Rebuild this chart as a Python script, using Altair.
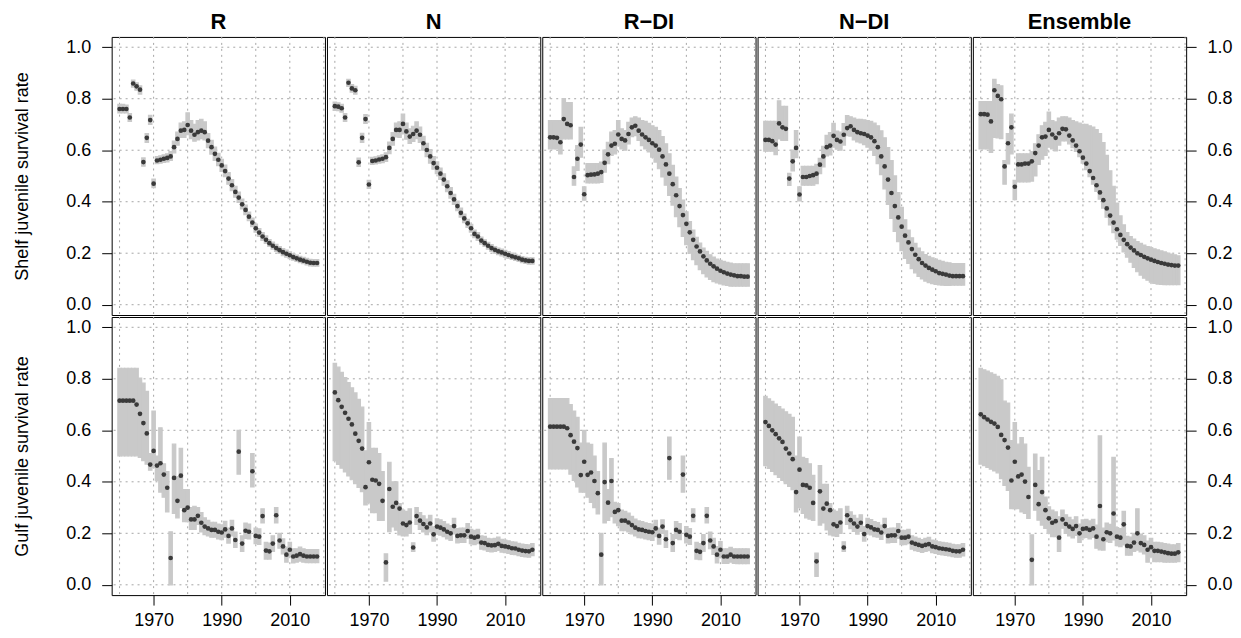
import altair as alt
import pandas as pd

YEARS = list(range(1960, 2019))

MODELS = ["R", "N", "R\u2212DI", "N\u2212DI", "Ensemble"]
ROW_TITLES = ["Shelf juvenile survival rate", "Gulf juvenile survival rate"]
X_TICKS = [1970, 1990, 2010]
GRID_X = [1960, 1970, 1980, 1990, 2000, 2010, 2020]
Y_TICKS = [0.0, 0.2, 0.4, 0.6, 0.8, 1.0]

# ---------------- Shelf ----------------
R_SHELF_MID = [0.760, 0.760, 0.760, 0.727, 0.859, 0.848, 0.835, 0.554, 0.648, 0.717,
               0.470, 0.560, 0.563, 0.567, 0.570, 0.576, 0.612, 0.644, 0.676, 0.679,
               0.698, 0.676, 0.660, 0.670, 0.676, 0.670, 0.637, 0.612, 0.586, 0.563,
               0.541, 0.519, 0.490, 0.464, 0.438, 0.416, 0.390, 0.368, 0.342, 0.319,
               0.297, 0.280, 0.265, 0.252, 0.239, 0.229, 0.220, 0.212, 0.204, 0.198,
               0.192, 0.185, 0.180, 0.175, 0.171, 0.167, 0.163, 0.162, 0.162]
R_SHELF_LO = [0.745, 0.745, 0.745, 0.712, 0.845, 0.833, 0.818, 0.538, 0.630, 0.700,
              0.455, 0.548, 0.550, 0.553, 0.555, 0.560, 0.590, 0.620, 0.650, 0.650,
              0.660, 0.645, 0.635, 0.640, 0.645, 0.640, 0.610, 0.585, 0.560, 0.540,
              0.518, 0.497, 0.468, 0.443, 0.418, 0.397, 0.372, 0.350, 0.326, 0.303,
              0.282, 0.265, 0.250, 0.238, 0.226, 0.216, 0.207, 0.199, 0.191, 0.185,
              0.179, 0.173, 0.168, 0.163, 0.159, 0.155, 0.151, 0.150, 0.150]
R_SHELF_HI = [0.778, 0.778, 0.775, 0.742, 0.872, 0.862, 0.850, 0.570, 0.665, 0.735,
              0.488, 0.575, 0.578, 0.582, 0.586, 0.595, 0.635, 0.670, 0.705, 0.710,
              0.745, 0.715, 0.700, 0.715, 0.720, 0.710, 0.665, 0.638, 0.612, 0.588,
              0.565, 0.542, 0.513, 0.486, 0.460, 0.437, 0.410, 0.387, 0.360, 0.336,
              0.313, 0.296, 0.280, 0.267, 0.253, 0.243, 0.234, 0.226, 0.218, 0.212,
              0.205, 0.198, 0.193, 0.188, 0.184, 0.180, 0.176, 0.175, 0.175]

N_SHELF_MID = [0.771, 0.769, 0.763, 0.727, 0.862, 0.840, 0.833, 0.553, 0.648, 0.721,
               0.467, 0.558, 0.560, 0.564, 0.567, 0.573, 0.609, 0.644, 0.679, 0.679,
               0.702, 0.673, 0.653, 0.663, 0.676, 0.660, 0.627, 0.601, 0.576, 0.550,
               0.532, 0.509, 0.486, 0.460, 0.434, 0.409, 0.383, 0.357, 0.335, 0.316,
               0.297, 0.275, 0.265, 0.249, 0.239, 0.229, 0.220, 0.213, 0.207, 0.203,
               0.198, 0.193, 0.188, 0.184, 0.180, 0.175, 0.172, 0.170, 0.170]
N_SHELF_LO = [0.755, 0.754, 0.748, 0.712, 0.848, 0.826, 0.818, 0.537, 0.630, 0.704,
              0.452, 0.545, 0.547, 0.550, 0.552, 0.557, 0.587, 0.620, 0.652, 0.650,
              0.665, 0.643, 0.626, 0.634, 0.645, 0.630, 0.600, 0.575, 0.550, 0.526,
              0.509, 0.487, 0.464, 0.439, 0.414, 0.390, 0.365, 0.340, 0.319, 0.300,
              0.282, 0.260, 0.250, 0.235, 0.226, 0.216, 0.207, 0.200, 0.194, 0.190,
              0.185, 0.180, 0.176, 0.172, 0.168, 0.163, 0.160, 0.158, 0.158]
N_SHELF_HI = [0.787, 0.784, 0.778, 0.742, 0.875, 0.855, 0.848, 0.569, 0.666, 0.738,
              0.483, 0.572, 0.574, 0.578, 0.582, 0.590, 0.632, 0.668, 0.705, 0.710,
              0.740, 0.705, 0.683, 0.693, 0.710, 0.690, 0.654, 0.627, 0.602, 0.575,
              0.555, 0.531, 0.508, 0.481, 0.455, 0.429, 0.402, 0.375, 0.352, 0.332,
              0.312, 0.290, 0.280, 0.263, 0.252, 0.242, 0.233, 0.226, 0.220, 0.216,
              0.211, 0.206, 0.200, 0.196, 0.192, 0.187, 0.184, 0.182, 0.182]

RDI_SHELF_MID = [0.650, 0.650, 0.648, 0.631, 0.721, 0.702, 0.697, 0.496, 0.567, 0.622,
                 0.429, 0.503, 0.505, 0.506, 0.509, 0.515, 0.551, 0.584, 0.618, 0.625,
                 0.661, 0.644, 0.638, 0.663, 0.689, 0.695, 0.676, 0.661, 0.650, 0.640,
                 0.627, 0.618, 0.602, 0.576, 0.545, 0.509, 0.468, 0.425, 0.383, 0.348,
                 0.314, 0.281, 0.252, 0.226, 0.207, 0.188, 0.172, 0.159, 0.149, 0.140,
                 0.132, 0.126, 0.121, 0.117, 0.114, 0.111, 0.111, 0.109, 0.109]
RDI_SHELF_LO = [0.605, 0.605, 0.605, 0.586, 0.644, 0.644, 0.644, 0.464, 0.522, 0.573,
                0.406, 0.473, 0.473, 0.473, 0.473, 0.475, 0.515, 0.548, 0.580, 0.586,
                0.618, 0.605, 0.600, 0.625, 0.653, 0.657, 0.638, 0.618, 0.605, 0.593,
                0.573, 0.554, 0.528, 0.496, 0.464, 0.425, 0.387, 0.342, 0.303, 0.265,
                0.233, 0.200, 0.175, 0.156, 0.136, 0.121, 0.108, 0.098, 0.090, 0.085,
                0.081, 0.077, 0.075, 0.072, 0.072, 0.072, 0.072, 0.072, 0.072]
RDI_SHELF_HI = [0.715, 0.715, 0.715, 0.715, 0.800, 0.785, 0.785, 0.535, 0.618, 0.689,
                0.458, 0.548, 0.548, 0.548, 0.548, 0.554, 0.600, 0.631, 0.670, 0.676,
                0.715, 0.683, 0.676, 0.708, 0.725, 0.730, 0.725, 0.715, 0.712, 0.704,
                0.695, 0.689, 0.676, 0.653, 0.625, 0.586, 0.541, 0.496, 0.451, 0.406,
                0.361, 0.323, 0.290, 0.262, 0.239, 0.220, 0.207, 0.194, 0.185, 0.177,
                0.172, 0.168, 0.165, 0.162, 0.159, 0.159, 0.159, 0.159, 0.159]

NDI_SHELF_MID = [0.640, 0.640, 0.635, 0.622, 0.704, 0.689, 0.683, 0.490, 0.557, 0.609,
                 0.428, 0.496, 0.496, 0.500, 0.503, 0.509, 0.544, 0.576, 0.612, 0.618,
                 0.656, 0.640, 0.634, 0.660, 0.686, 0.693, 0.679, 0.670, 0.666, 0.663,
                 0.657, 0.650, 0.635, 0.612, 0.576, 0.537, 0.486, 0.434, 0.383, 0.339,
                 0.303, 0.268, 0.242, 0.216, 0.194, 0.177, 0.162, 0.152, 0.143, 0.136,
                 0.130, 0.123, 0.120, 0.117, 0.113, 0.111, 0.111, 0.111, 0.111]
NDI_SHELF_LO = [0.596, 0.596, 0.596, 0.583, 0.644, 0.638, 0.638, 0.463, 0.520, 0.571,
                0.403, 0.464, 0.464, 0.464, 0.464, 0.470, 0.509, 0.535, 0.578, 0.582,
                0.612, 0.604, 0.600, 0.620, 0.657, 0.655, 0.640, 0.632, 0.628, 0.622,
                0.612, 0.600, 0.580, 0.548, 0.505, 0.450, 0.390, 0.335, 0.285, 0.245,
                0.210, 0.180, 0.160, 0.140, 0.124, 0.110, 0.100, 0.092, 0.086, 0.082,
                0.079, 0.077, 0.076, 0.075, 0.075, 0.076, 0.076, 0.076, 0.076]
NDI_SHELF_HI = [0.712, 0.712, 0.712, 0.712, 0.792, 0.770, 0.770, 0.510, 0.600, 0.676,
                0.458, 0.537, 0.537, 0.537, 0.537, 0.545, 0.568, 0.615, 0.658, 0.668,
                0.704, 0.674, 0.670, 0.703, 0.734, 0.730, 0.725, 0.720, 0.720, 0.718,
                0.715, 0.712, 0.705, 0.695, 0.675, 0.648, 0.610, 0.560, 0.500, 0.435,
                0.378, 0.330, 0.290, 0.260, 0.238, 0.220, 0.205, 0.195, 0.188, 0.182,
                0.177, 0.172, 0.168, 0.165, 0.163, 0.160, 0.160, 0.160, 0.160]

ENS_SHELF_MID = [0.740, 0.740, 0.738, 0.712, 0.833, 0.811, 0.798, 0.537, 0.627, 0.689,
                 0.458, 0.545, 0.545, 0.548, 0.548, 0.557, 0.589, 0.618, 0.650, 0.653,
                 0.679, 0.661, 0.648, 0.666, 0.683, 0.681, 0.657, 0.638, 0.618, 0.596,
                 0.571, 0.548, 0.519, 0.492, 0.464, 0.436, 0.406, 0.374, 0.346, 0.319,
                 0.293, 0.271, 0.252, 0.235, 0.222, 0.211, 0.200, 0.193, 0.186, 0.180,
                 0.175, 0.170, 0.166, 0.162, 0.159, 0.156, 0.154, 0.152, 0.152]
ENS_SHELF_LO = [0.605, 0.605, 0.605, 0.592, 0.650, 0.648, 0.645, 0.468, 0.547, 0.586,
                0.408, 0.477, 0.477, 0.477, 0.477, 0.480, 0.500, 0.545, 0.565, 0.580,
                0.612, 0.605, 0.597, 0.620, 0.636, 0.636, 0.625, 0.610, 0.595, 0.575,
                0.550, 0.525, 0.497, 0.468, 0.440, 0.410, 0.375, 0.340, 0.310, 0.280,
                0.255, 0.230, 0.205, 0.185, 0.165, 0.145, 0.128, 0.115, 0.103, 0.095,
                0.088, 0.083, 0.080, 0.079, 0.078, 0.078, 0.078, 0.078, 0.078]
ENS_SHELF_HI = [0.789, 0.789, 0.789, 0.789, 0.875, 0.855, 0.850, 0.560, 0.665, 0.740,
                0.483, 0.586, 0.586, 0.586, 0.586, 0.595, 0.625, 0.660, 0.695, 0.708,
                0.748, 0.715, 0.710, 0.725, 0.730, 0.730, 0.725, 0.715, 0.710, 0.705,
                0.700, 0.700, 0.695, 0.690, 0.680, 0.665, 0.630, 0.580, 0.520, 0.460,
                0.395, 0.345, 0.310, 0.280, 0.265, 0.255, 0.245, 0.238, 0.232, 0.226,
                0.222, 0.217, 0.213, 0.209, 0.205, 0.200, 0.197, 0.194, 0.190]

# ---------------- Gulf ----------------
R_GULF_MID = [0.715, 0.715, 0.715, 0.715, 0.715, 0.700, 0.664, 0.628, 0.588, 0.467,
              0.520, 0.463, 0.472, 0.428, 0.377, 0.104, 0.415, 0.326, 0.424, 0.290,
              0.300, 0.254, 0.254, 0.268, 0.241, 0.226, 0.219, 0.213, 0.213, 0.206,
              0.203, 0.215, 0.190, 0.219, 0.174, 0.517, 0.160, 0.210, 0.206, 0.441,
              0.190, 0.187, 0.267, 0.133, 0.130, 0.160, 0.270, 0.172, 0.149, 0.117,
              0.136, 0.110, 0.113, 0.119, 0.113, 0.110, 0.110, 0.110, 0.110]
R_GULF_LO = [0.501, 0.501, 0.501, 0.501, 0.501, 0.501, 0.495, 0.482, 0.469, 0.445,
             0.455, 0.405, 0.360, 0.340, 0.283, 0.000, 0.277, 0.260, 0.300, 0.245,
             0.245, 0.215, 0.215, 0.235, 0.205, 0.195, 0.190, 0.185, 0.185, 0.178,
             0.175, 0.185, 0.162, 0.190, 0.145, 0.430, 0.130, 0.180, 0.178, 0.380,
             0.160, 0.157, 0.240, 0.100, 0.100, 0.130, 0.240, 0.142, 0.120, 0.088,
             0.108, 0.085, 0.088, 0.092, 0.088, 0.086, 0.086, 0.086, 0.086]
R_GULF_HI = [0.841, 0.841, 0.841, 0.841, 0.841, 0.841, 0.803, 0.783, 0.751, 0.510,
             0.675, 0.500, 0.610, 0.470, 0.440, 0.206, 0.546, 0.420, 0.530, 0.370,
             0.370, 0.300, 0.305, 0.300, 0.280, 0.260, 0.250, 0.243, 0.243, 0.236,
             0.233, 0.246, 0.220, 0.250, 0.205, 0.600, 0.190, 0.240, 0.236, 0.510,
             0.220, 0.217, 0.295, 0.165, 0.162, 0.190, 0.300, 0.200, 0.178, 0.146,
             0.165, 0.140, 0.140, 0.146, 0.140, 0.137, 0.137, 0.137, 0.137]

N_GULF_MID = [0.747, 0.717, 0.691, 0.668, 0.645, 0.623, 0.587, 0.559, 0.529, 0.379,
              0.476, 0.408, 0.405, 0.392, 0.326, 0.087, 0.372, 0.303, 0.318, 0.296,
              0.238, 0.232, 0.242, 0.145, 0.267, 0.249, 0.236, 0.223, 0.238, 0.196,
              0.226, 0.222, 0.215, 0.206, 0.200, 0.228, 0.190, 0.192, 0.192, 0.209,
              0.187, 0.183, 0.187, 0.164, 0.162, 0.155, 0.153, 0.154, 0.159, 0.151,
              0.149, 0.146, 0.142, 0.141, 0.136, 0.133, 0.131, 0.130, 0.136]
N_GULF_LO = [0.482, 0.468, 0.453, 0.438, 0.423, 0.408, 0.393, 0.378, 0.362, 0.310,
             0.320, 0.280, 0.280, 0.250, 0.250, 0.014, 0.206, 0.225, 0.212, 0.194,
             0.190, 0.190, 0.200, 0.130, 0.235, 0.215, 0.205, 0.195, 0.205, 0.170,
             0.197, 0.193, 0.187, 0.178, 0.172, 0.198, 0.163, 0.165, 0.165, 0.180,
             0.160, 0.156, 0.160, 0.138, 0.136, 0.130, 0.128, 0.130, 0.134, 0.127,
             0.125, 0.122, 0.118, 0.117, 0.113, 0.110, 0.108, 0.107, 0.113]
N_GULF_HI = [0.860, 0.845, 0.825, 0.805, 0.785, 0.765, 0.745, 0.720, 0.690, 0.520,
             0.630, 0.530, 0.530, 0.510, 0.440, 0.120, 0.476, 0.400, 0.400, 0.315,
             0.290, 0.285, 0.295, 0.163, 0.300, 0.280, 0.268, 0.255, 0.270, 0.225,
             0.256, 0.252, 0.245, 0.236, 0.230, 0.258, 0.218, 0.220, 0.220, 0.238,
             0.215, 0.211, 0.215, 0.190, 0.188, 0.180, 0.178, 0.180, 0.185, 0.177,
             0.174, 0.171, 0.167, 0.166, 0.161, 0.158, 0.156, 0.155, 0.160]

RDI_GULF_MID = [0.614, 0.614, 0.614, 0.614, 0.614, 0.608, 0.581, 0.556, 0.531, 0.426,
                0.478, 0.427, 0.436, 0.403, 0.356, 0.117, 0.399, 0.319, 0.403, 0.283,
                0.290, 0.249, 0.249, 0.242, 0.232, 0.222, 0.215, 0.213, 0.209, 0.206,
                0.204, 0.219, 0.190, 0.226, 0.177, 0.492, 0.162, 0.213, 0.206, 0.428,
                0.194, 0.187, 0.268, 0.132, 0.128, 0.162, 0.268, 0.172, 0.149, 0.117,
                0.136, 0.110, 0.110, 0.117, 0.110, 0.110, 0.110, 0.110, 0.110]
RDI_GULF_LO = [0.450, 0.450, 0.450, 0.450, 0.450, 0.450, 0.430, 0.405, 0.380, 0.360,
               0.360, 0.340, 0.320, 0.300, 0.275, 0.000, 0.240, 0.250, 0.265, 0.240,
               0.230, 0.210, 0.210, 0.205, 0.198, 0.190, 0.183, 0.182, 0.178, 0.175,
               0.172, 0.187, 0.158, 0.200, 0.145, 0.410, 0.130, 0.180, 0.175, 0.360,
               0.163, 0.157, 0.245, 0.100, 0.098, 0.130, 0.240, 0.140, 0.118, 0.085,
               0.105, 0.083, 0.083, 0.088, 0.083, 0.082, 0.082, 0.082, 0.082]
RDI_GULF_HI = [0.723, 0.723, 0.723, 0.723, 0.723, 0.723, 0.700, 0.675, 0.650, 0.550,
               0.600, 0.550, 0.545, 0.500, 0.440, 0.200, 0.550, 0.370, 0.490, 0.320,
               0.315, 0.290, 0.285, 0.278, 0.266, 0.255, 0.248, 0.245, 0.241, 0.238,
               0.236, 0.250, 0.220, 0.252, 0.210, 0.574, 0.195, 0.245, 0.238, 0.500,
               0.226, 0.218, 0.295, 0.165, 0.160, 0.195, 0.300, 0.205, 0.180, 0.148,
               0.168, 0.140, 0.140, 0.145, 0.140, 0.140, 0.140, 0.140, 0.140]

NDI_GULF_MID = [0.632, 0.617, 0.600, 0.585, 0.569, 0.555, 0.529, 0.510, 0.488, 0.360,
                0.447, 0.388, 0.386, 0.377, 0.318, 0.091, 0.363, 0.296, 0.315, 0.290,
                0.235, 0.228, 0.242, 0.145, 0.270, 0.251, 0.238, 0.226, 0.241, 0.197,
                0.228, 0.223, 0.215, 0.213, 0.203, 0.228, 0.190, 0.192, 0.192, 0.209,
                0.183, 0.183, 0.187, 0.164, 0.159, 0.155, 0.151, 0.155, 0.158, 0.149,
                0.146, 0.142, 0.140, 0.138, 0.136, 0.132, 0.130, 0.130, 0.136]
NDI_GULF_LO = [0.463, 0.452, 0.440, 0.428, 0.417, 0.405, 0.393, 0.382, 0.370, 0.283,
               0.300, 0.277, 0.260, 0.255, 0.250, 0.033, 0.232, 0.240, 0.213, 0.194,
               0.190, 0.188, 0.200, 0.130, 0.235, 0.218, 0.207, 0.197, 0.207, 0.170,
               0.198, 0.194, 0.187, 0.185, 0.176, 0.198, 0.163, 0.165, 0.165, 0.180,
               0.156, 0.156, 0.160, 0.138, 0.133, 0.130, 0.126, 0.130, 0.133, 0.125,
               0.122, 0.118, 0.116, 0.114, 0.112, 0.109, 0.107, 0.107, 0.112]
NDI_GULF_HI = [0.732, 0.722, 0.712, 0.702, 0.692, 0.682, 0.672, 0.662, 0.650, 0.500,
               0.574, 0.495, 0.490, 0.470, 0.425, 0.123, 0.463, 0.390, 0.390, 0.315,
               0.290, 0.285, 0.295, 0.167, 0.305, 0.283, 0.270, 0.258, 0.272, 0.226,
               0.258, 0.253, 0.245, 0.242, 0.232, 0.258, 0.218, 0.220, 0.220, 0.238,
               0.211, 0.211, 0.215, 0.190, 0.185, 0.180, 0.176, 0.180, 0.184, 0.174,
               0.171, 0.167, 0.165, 0.163, 0.161, 0.157, 0.155, 0.155, 0.160]

ENS_GULF_MID = [0.662, 0.651, 0.642, 0.633, 0.626, 0.613, 0.582, 0.562, 0.533, 0.405,
                0.478, 0.421, 0.428, 0.401, 0.341, 0.097, 0.388, 0.313, 0.360, 0.290,
                0.258, 0.241, 0.247, 0.183, 0.254, 0.236, 0.226, 0.217, 0.228, 0.200,
                0.217, 0.219, 0.213, 0.219, 0.187, 0.306, 0.177, 0.204, 0.200, 0.277,
                0.187, 0.183, 0.235, 0.151, 0.149, 0.164, 0.200, 0.162, 0.155, 0.136,
                0.146, 0.132, 0.132, 0.129, 0.126, 0.123, 0.121, 0.121, 0.126]
ENS_GULF_LO = [0.469, 0.463, 0.456, 0.449, 0.442, 0.435, 0.412, 0.386, 0.367, 0.296,
               0.296, 0.296, 0.283, 0.277, 0.258, 0.000, 0.290, 0.251, 0.232, 0.219,
               0.200, 0.187, 0.187, 0.130, 0.220, 0.200, 0.190, 0.182, 0.192, 0.165,
               0.182, 0.184, 0.178, 0.184, 0.142, 0.136, 0.135, 0.168, 0.165, 0.174,
               0.152, 0.148, 0.155, 0.115, 0.115, 0.130, 0.135, 0.128, 0.120, 0.088,
               0.110, 0.090, 0.090, 0.090, 0.088, 0.088, 0.088, 0.088, 0.090]
ENS_GULF_HI = [0.841, 0.835, 0.830, 0.823, 0.817, 0.810, 0.796, 0.713, 0.706, 0.560,
               0.630, 0.546, 0.572, 0.546, 0.456, 0.194, 0.508, 0.444, 0.495, 0.341,
               0.303, 0.290, 0.283, 0.264, 0.290, 0.272, 0.262, 0.252, 0.264, 0.236,
               0.252, 0.254, 0.248, 0.254, 0.232, 0.578, 0.220, 0.240, 0.235, 0.495,
               0.222, 0.218, 0.285, 0.188, 0.185, 0.200, 0.295, 0.197, 0.190, 0.170,
               0.180, 0.165, 0.165, 0.163, 0.160, 0.158, 0.155, 0.155, 0.160]

SERIES = {
    (0, 0): (R_SHELF_MID, R_SHELF_LO, R_SHELF_HI),
    (0, 1): (N_SHELF_MID, N_SHELF_LO, N_SHELF_HI),
    (0, 2): (RDI_SHELF_MID, RDI_SHELF_LO, RDI_SHELF_HI),
    (0, 3): (NDI_SHELF_MID, NDI_SHELF_LO, NDI_SHELF_HI),
    (0, 4): (ENS_SHELF_MID, ENS_SHELF_LO, ENS_SHELF_HI),
    (1, 0): (R_GULF_MID, R_GULF_LO, R_GULF_HI),
    (1, 1): (N_GULF_MID, N_GULF_LO, N_GULF_HI),
    (1, 2): (RDI_GULF_MID, RDI_GULF_LO, RDI_GULF_HI),
    (1, 3): (NDI_GULF_MID, NDI_GULF_LO, NDI_GULF_HI),
    (1, 4): (ENS_GULF_MID, ENS_GULF_LO, ENS_GULF_HI),
}

FONT = "Liberation Sans"
BAND = "#c9c9c9"
PT = "#3a3a3a"
GRID = "#a6a6a6"
W, H = 214, 279


def make_panel(r, c):
    mid, lo, hi = SERIES[(r, c)]
    df = pd.DataFrame({"year": YEARS, "mid": mid, "lo": lo, "hi": hi})
    xscale = alt.Scale(domain=[1957.68, 2020.32], nice=False, zero=False)
    yscale = alt.Scale(domain=[-0.04, 1.04], nice=False, zero=False)

    if r == 1:
        xaxis = alt.Axis(values=X_TICKS, format="d", title=None, grid=False,
                         domain=False, tickSize=10, tickColor="black",
                         labelPadding=7, labelFontSize=18, labelFont=FONT,
                         labelColor="black")
    else:
        xaxis = None

    common_y = dict(values=Y_TICKS, format=".1f", grid=False, domain=False,
                    tickSize=10, tickColor="black", labelPadding=11,
                    labelFontSize=18, labelFont=FONT, labelColor="black")
    if c == 0:
        yaxis = alt.Axis(orient="left", title=ROW_TITLES[r], titlePadding=34,
                         titleFontSize=18, titleFont=FONT, titleFontWeight="normal",
                         titleColor="black", **common_y)
    elif c == 4:
        yaxis = alt.Axis(orient="right", title=None, **common_y)
    else:
        yaxis = None

    vgrid = alt.Chart(pd.DataFrame({"gx": GRID_X})).mark_rule(
        color=GRID, strokeDash=[2, 4], strokeWidth=1
    ).encode(x=alt.X("gx:Q", scale=xscale, axis=xaxis))
    hgrid = alt.Chart(pd.DataFrame({"gy": Y_TICKS})).mark_rule(
        color=GRID, strokeDash=[2, 4], strokeWidth=1
    ).encode(y=alt.Y("gy:Q", scale=yscale, axis=yaxis))
    band = alt.Chart(df).transform_calculate(
        x0="datum.year - 0.5", x1="datum.year + 0.5"
    ).mark_rect(color=BAND, stroke=BAND, strokeWidth=1.2).encode(
        x=alt.X("x0:Q", scale=xscale, axis=xaxis),
        x2="x1:Q",
        y=alt.Y("lo:Q", scale=yscale, axis=yaxis),
        y2="hi:Q",
    )
    pts = alt.Chart(df).mark_point(
        filled=True, shape="circle", size=22, color=PT, opacity=1
    ).encode(
        x=alt.X("year:Q", scale=xscale, axis=xaxis),
        y=alt.Y("mid:Q", scale=yscale, axis=yaxis),
    )
    layer = alt.layer(vgrid, hgrid, band, pts).properties(width=W, height=H)
    if r == 0:
        layer = layer.properties(
            title=alt.Title(MODELS[c], fontSize=22, font=FONT, fontWeight="bold",
                            color="black", offset=2, anchor="middle")
        )
    return layer


rows = []
for r in range(2):
    rows.append(alt.hconcat(*[make_panel(r, c) for c in range(5)], spacing=0))

chart = alt.vconcat(*rows, spacing=0).properties(
    padding={"left": 5, "top": 2, "right": 0, "bottom": 0},
    background="white",
).configure_view(stroke="black", strokeWidth=1)

chart.save("out.html", embed_options={"renderer": "svg", "actions": False})
